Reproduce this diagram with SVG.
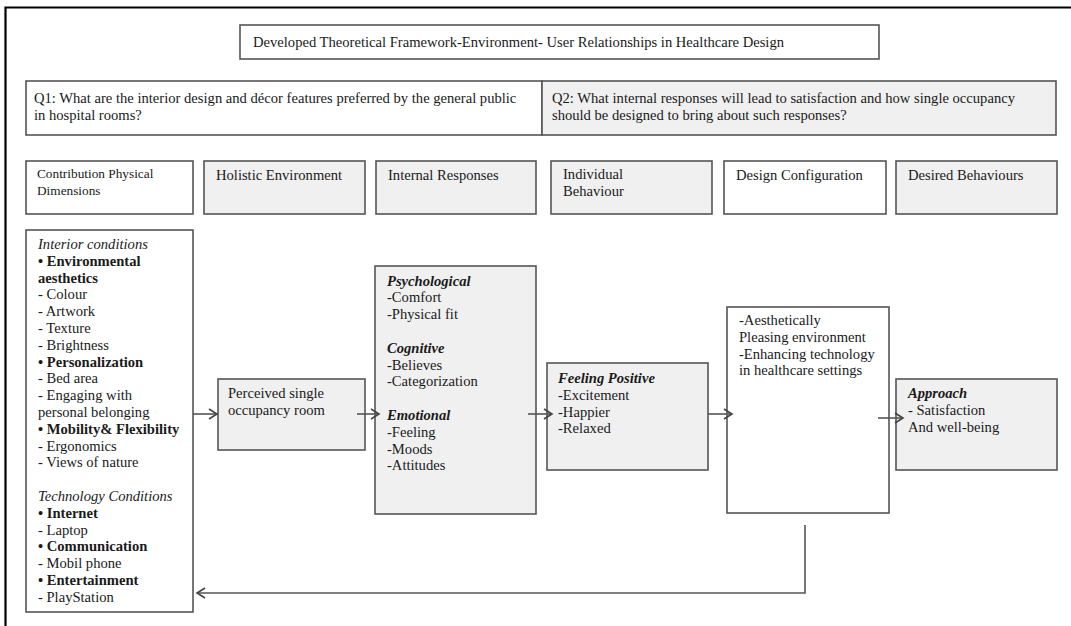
<svg xmlns="http://www.w3.org/2000/svg" width="1071" height="626" viewBox="0 0 1071 626">
<style>
text{font-family:"Liberation Serif","Times New Roman",serif;font-size:14.6px;fill:#1a1a1a}
.sm{font-size:13.3px}
.b{font-weight:bold}
.i{font-style:italic}
.bi{font-weight:bold;font-style:italic}
.w{fill:#ffffff;stroke:#555555;stroke-width:1.6}
.g{fill:#f0f0f0;stroke:#555555;stroke-width:1.6}
.c{fill:none;stroke:#555555;stroke-width:1.6}
</style>
<defs>
<marker id="ah" markerUnits="userSpaceOnUse" markerWidth="12" markerHeight="12" refX="9" refY="6" orient="auto">
<path d="M1,1 L9,6 L1,11" fill="none" stroke="#444444" stroke-width="1.6"/>
</marker>
</defs>
<rect width="1071" height="626" fill="#ffffff"/>
<path d="M5.5,626 V7.5 H1071" fill="none" stroke="#000000" stroke-width="2.2"/>

<g id="title">
<rect class="w" x="240" y="25" width="639" height="34"/>
<text x="253" y="47">Developed Theoretical Framework-Environment- User Relationships in Healthcare Design</text>
</g>

<g id="q1">
<rect class="w" x="26" y="81" width="516" height="54"/>
<text x="34" y="103">Q1: What are the interior design and décor features preferred by the general public</text>
<text x="34" y="120">in hospital rooms?</text>
</g>
<g id="q2">
<rect class="g" x="542" y="81" width="514" height="54"/>
<text x="552" y="103">Q2: What internal responses will lead to satisfaction and how single occupancy</text>
<text x="552" y="120">should be designed to bring about such responses?</text>
</g>

<g id="h-contribution">
<rect class="w" x="26" y="161" width="167" height="53"/>
<text class="sm" x="37" y="178">Contribution Physical</text>
<text class="sm" x="37" y="195">Dimensions</text>
</g>
<g id="h-holistic">
<rect class="g" x="204" y="161" width="161" height="53"/>
<text x="216" y="180">Holistic Environment</text>
</g>
<g id="h-internal">
<rect class="g" x="376" y="161" width="160" height="53"/>
<text x="388" y="180">Internal Responses</text>
</g>
<g id="h-individual">
<rect class="g" x="551" y="161" width="161" height="53"/>
<text x="563" y="179">Individual</text>
<text x="563" y="196">Behaviour</text>
</g>
<g id="h-design">
<rect class="w" x="724" y="161" width="162" height="53"/>
<text x="736" y="180">Design Configuration</text>
</g>
<g id="h-desired">
<rect class="g" x="896" y="161" width="161" height="53"/>
<text x="908" y="180">Desired Behaviours</text>
</g>

<g id="physical">
<rect class="w" x="26" y="230" width="167" height="382"/>
<text x="38" y="249" class="i">Interior conditions</text>
<text x="38" y="265.8" class="b">• Environmental</text>
<text x="38" y="282.6" class="b">aesthetics</text>
<text x="38" y="299.4">- Colour</text>
<text x="38" y="316.2">- Artwork</text>
<text x="38" y="333">- Texture</text>
<text x="38" y="349.8">- Brightness</text>
<text x="38" y="366.6" class="b">• Personalization</text>
<text x="38" y="383.4">- Bed area</text>
<text x="38" y="400.2">- Engaging with</text>
<text x="38" y="417">personal belonging</text>
<text x="38" y="433.8" class="b">• Mobility&amp; Flexibility</text>
<text x="38" y="450.6">- Ergonomics</text>
<text x="38" y="467.4">- Views of nature</text>
<text x="38" y="501" class="i">Technology Conditions</text>
<text x="38" y="517.8" class="b">• Internet</text>
<text x="38" y="534.6">- Laptop</text>
<text x="38" y="551.4" class="b">• Communication</text>
<text x="38" y="568.2">- Mobil phone</text>
<text x="38" y="585" class="b">• Entertainment</text>
<text x="38" y="601.8">- PlayStation</text>
</g>

<g id="perceived">
<rect class="g" x="218" y="379" width="147" height="71"/>
<text x="228" y="398">Perceived single</text>
<text x="228" y="414.8">occupancy room</text>
</g>

<g id="internal">
<rect class="g" x="375" y="266" width="161" height="248"/>
<text x="387" y="285.5" class="bi">Psychological</text>
<text x="387" y="302.3">-Comfort</text>
<text x="387" y="319.1">-Physical fit</text>
<text x="387" y="352.7" class="bi">Cognitive</text>
<text x="387" y="369.5">-Believes</text>
<text x="387" y="386.3">-Categorization</text>
<text x="387" y="419.9" class="bi">Emotional</text>
<text x="387" y="436.7">-Feeling</text>
<text x="387" y="453.5">-Moods</text>
<text x="387" y="470.3">-Attitudes</text>
</g>

<g id="feeling">
<rect class="g" x="547" y="363" width="161" height="107"/>
<text x="558" y="383" class="bi">Feeling Positive</text>
<text x="558" y="399.8">-Excitement</text>
<text x="558" y="416.6">-Happier</text>
<text x="558" y="433.4">-Relaxed</text>
</g>

<g id="design">
<rect class="w" x="727" y="307" width="162" height="206"/>
<text x="739" y="325">-Aesthetically</text>
<text x="739" y="341.8">Pleasing environment</text>
<text x="739" y="358.6">-Enhancing technology</text>
<text x="739" y="375.4">in healthcare settings</text>
</g>

<g id="approach">
<rect class="g" x="896" y="379" width="161" height="91"/>
<text x="908" y="398" class="bi">Approach</text>
<text x="908" y="414.8">- Satisfaction</text>
<text x="908" y="431.6">And well-being</text>
</g>

<g id="connectors">
<line class="c" x1="193" y1="414" x2="217" y2="414" marker-end="url(#ah)"/>
<line class="c" x1="357" y1="414" x2="379" y2="414" marker-end="url(#ah)"/>
<line class="c" x1="528" y1="414" x2="552" y2="414" marker-end="url(#ah)"/>
<line class="c" x1="708" y1="414" x2="732" y2="414" marker-end="url(#ah)"/>
<line class="c" x1="878" y1="418" x2="903" y2="418" marker-end="url(#ah)"/>
<polyline class="c" points="805,525 805,593 197,593" marker-end="url(#ah)"/>
</g>
</svg>
